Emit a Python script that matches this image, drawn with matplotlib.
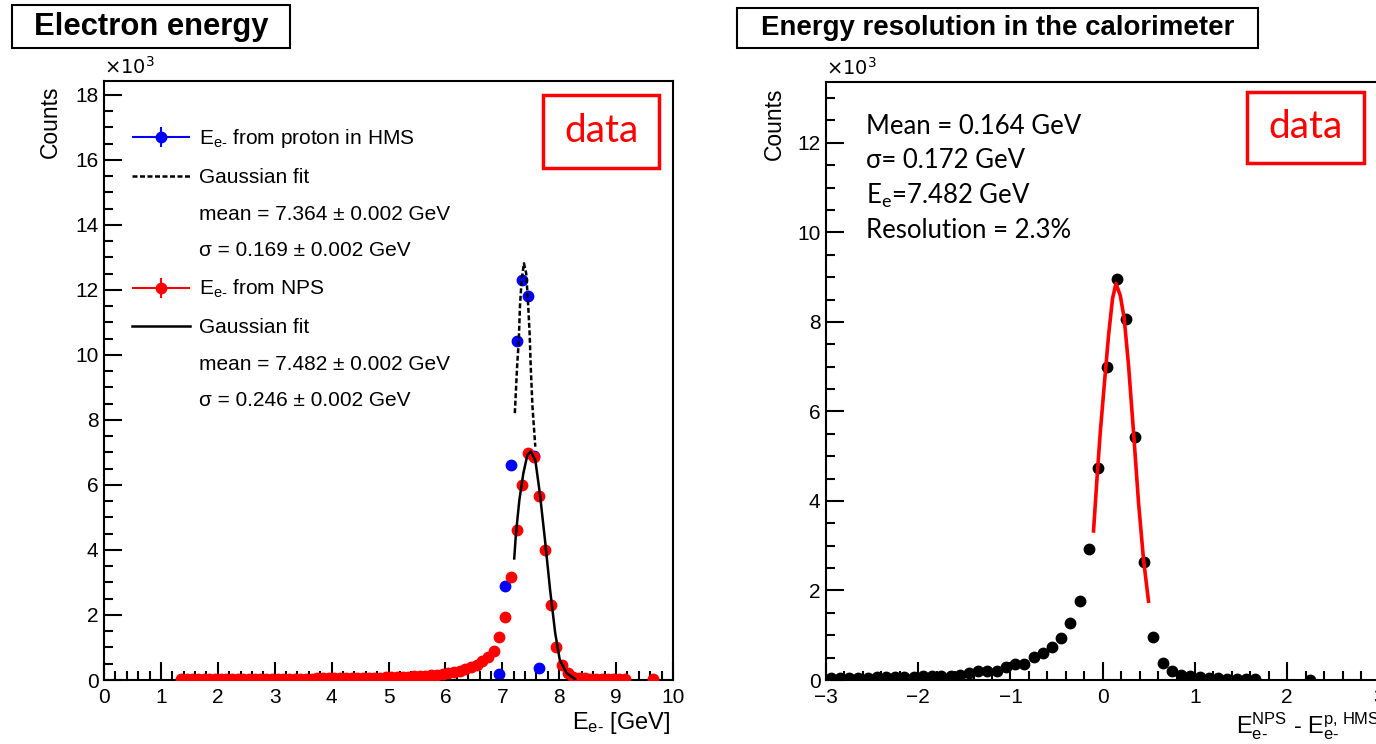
import numpy as np
import matplotlib.pyplot as plt
from matplotlib.patches import Rectangle
from matplotlib.ticker import MultipleLocator
from matplotlib.legend_handler import HandlerErrorbar
from matplotlib.container import ErrorbarContainer

plt.rcParams['font.family'] = ['Liberation Sans', 'DejaVu Sans']
plt.rcParams['mathtext.fontset'] = 'custom'
plt.rcParams['mathtext.rm'] = 'Liberation Sans'
plt.rcParams['mathtext.it'] = 'Liberation Sans:italic'
plt.rcParams['mathtext.bf'] = 'Liberation Sans:bold'

# ---- left panel: electron energy (counts in units of 10^3) ----
e_npsbins = np.round(np.arange(1.35, 9.2, 0.1), 2).tolist() + [9.65]
n_nps = [0.02, 0.02, 0.03, 0.03, 0.03, 0.03, 0.03,
         0.03, 0.03, 0.03, 0.03, 0.03, 0.03, 0.04, 0.04, 0.04, 0.04,
         0.04, 0.04, 0.04, 0.04, 0.04, 0.04, 0.04, 0.05, 0.05, 0.05,
         0.05, 0.05, 0.05, 0.06, 0.06, 0.06, 0.07, 0.07, 0.07, 0.08,
         0.08, 0.09, 0.09, 0.10, 0.11, 0.12, 0.13, 0.14, 0.16, 0.18,
         0.21, 0.24, 0.28, 0.33, 0.39, 0.47, 0.57, 0.70, 0.90, 1.33,
         1.95, 3.18, 4.62, 6.00, 6.97, 6.85, 5.66, 4.00, 2.31, 1.03,
         0.46, 0.20, 0.10, 0.06, 0.05, 0.04, 0.04, 0.03, 0.03, 0.03,
         0.03, 0.03,
         0.02]

e_hms = [6.95, 7.05, 7.15, 7.25, 7.35, 7.45, 7.55, 7.65]
n_hms = [0.18, 2.90, 6.62, 10.43, 12.31, 11.82, 6.90, 0.38]

# fit curves
fit_hms_x = [7.22, 7.26, 7.29, 7.31, 7.34, 7.38, 7.42, 7.45, 7.48, 7.50, 7.53, 7.58]
fit_hms_y = [8.21, 9.64, 10.46, 11.49, 12.31, 12.82, 12.51, 11.69, 10.67, 9.64, 8.41, 7.18]
fit_nps_x = [7.21, 7.24, 7.30, 7.37, 7.44, 7.50, 7.58, 7.66, 7.75, 7.84, 7.93, 8.01, 8.13, 8.28]
fit_nps_y = [3.74, 4.51, 5.54, 6.36, 6.92, 7.03, 6.77, 5.74, 4.31, 2.77, 1.44, 0.62, 0.21, 0.03]

# ---- right panel: E_NPS - E_HMS ----
d_bins = np.round(np.arange(-2.95, 1.7, 0.1), 2).tolist() + [2.25]
n_diff = [0.04, 0.04, 0.05, 0.05, 0.05, 0.07, 0.06, 0.07, 0.07, 0.06,
          0.08, 0.09, 0.09, 0.10, 0.12, 0.15, 0.19, 0.20, 0.21, 0.29,
          0.35, 0.36, 0.51, 0.60, 0.73, 0.93, 1.27, 1.77, 2.93, 4.74,
          7.00, 8.95, 8.06, 5.42, 2.64, 0.95, 0.37, 0.19, 0.12, 0.09,
          0.06, 0.05, 0.04, 0.03, 0.03, 0.02, 0.02,
          0.01]
fit_d_x = [-0.10, -0.063, -0.027, 0.016, 0.063, 0.106, 0.143, 0.19, 0.233, 0.28, 0.334, 0.388, 0.442, 0.496]
fit_d_y = [3.33, 4.48, 5.53, 6.58, 7.70, 8.52, 8.86, 8.59, 8.07, 7.02, 5.53, 3.96, 2.69, 1.76]

fig = plt.figure(figsize=(13.76, 7.44), dpi=100)
W, H = 1376.0, 744.0


def px(x0, y0, x1, y1):
    return [x0 / W, 1 - y1 / H, (x1 - x0) / W, (y1 - y0) / H]


def root_axes(ax):
    ax.tick_params(which='both', direction='in', top=False, right=False,
                   width=1.5, labelsize=15)
    ax.tick_params(which='major', length=13)
    ax.tick_params(which='minor', length=6.5)
    ax.tick_params(axis='x', pad=6)
    ax.tick_params(axis='y', pad=4)
    for s in ax.spines.values():
        s.set_linewidth(1.5)


ax1 = fig.add_axes(px(104, 81, 673, 680))
root_axes(ax1)
ax1.errorbar(e_hms, n_hms, xerr=0.05, fmt='o', color='blue', ms=7.5, lw=1.5, zorder=2)
ax1.errorbar(e_npsbins, n_nps, xerr=0.05, fmt='o', color='red', ms=7.5, lw=1.5, zorder=3)
ax1.plot(fit_hms_x, fit_hms_y, color='black', ls=(0, (2, 1)), lw=1.8, zorder=4)
ax1.plot(fit_nps_x, fit_nps_y, color='black', lw=1.8, zorder=4)
ax1.set_xlim(0, 10)
ax1.set_ylim(0, 18.43)
ax1.xaxis.set_major_locator(MultipleLocator(1))
ax1.xaxis.set_minor_locator(MultipleLocator(0.2))
ax1.yaxis.set_major_locator(MultipleLocator(2))
ax1.yaxis.set_minor_locator(MultipleLocator(0.5))
ax1.set_ylabel('Counts', fontsize=16.5, loc='top')
ax1.yaxis.set_label_coords(-0.074, 0.993)
ax1.set_xlabel(r'E$_{\text{e-}}$ [GeV]', fontsize=17, loc='right')
ax1.xaxis.set_label_coords(0.995, -0.05)
ax1.text(0.0, 1.006, '×10$^{3}$', transform=ax1.transAxes,
         fontsize=14, va='bottom', family='DejaVu Sans', math_fontfamily='dejavusans')

# legend
h_blue = ax1.errorbar([np.nan], [np.nan], xerr=[1], yerr=[1], fmt='o', color='blue', ms=7.5, lw=1.5)
h_red = ax1.errorbar([np.nan], [np.nan], xerr=[1], yerr=[1], fmt='o', color='red', ms=7.5, lw=1.5)
h_dash, = ax1.plot([], [], color='black', ls=(0, (2, 1)), lw=1.8)
h_solid, = ax1.plot([], [], color='black', lw=1.8)
h_none, = ax1.plot([], [], ls='none')
handles = [h_blue, h_dash, h_none, h_none, h_red, h_solid, h_none, h_none]
labels = [r'E$_{\text{e-}}$ from proton in HMS', 'Gaussian fit',
          'mean = 7.364 ± 0.002 GeV', 'σ = 0.169 ± 0.002 GeV',
          r'E$_{\text{e-}}$ from NPS', 'Gaussian fit',
          'mean = 7.482 ± 0.002 GeV', 'σ = 0.246 ± 0.002 GeV']
ax1.legend(handles, labels, loc='upper left', bbox_to_anchor=(0.049, 0.923),
           frameon=False, fontsize=15, borderpad=0, borderaxespad=0,
           handlelength=2.8, handletextpad=0.4, labelspacing=0.85,
           handler_map={ErrorbarContainer: HandlerErrorbar(xerr_size=1.4, yerr_size=0.48)})

# ---- right panel ----
ax2 = fig.add_axes(px(826, 82, 1379.5, 680))
root_axes(ax2)
ax2.errorbar(d_bins, n_diff, xerr=0.05, fmt='o', color='black', ms=7.5, lw=1.5, zorder=2)
ax2.plot(fit_d_x, fit_d_y, color='red', lw=2.6, zorder=3)
ax2.set_xlim(-3, 3)
ax2.set_ylim(0, 13.36)
ax2.xaxis.set_major_locator(MultipleLocator(1))
ax2.xaxis.set_minor_locator(MultipleLocator(0.2))
ax2.yaxis.set_major_locator(MultipleLocator(2))
ax2.yaxis.set_minor_locator(MultipleLocator(0.5))
ax2.set_ylabel('Counts', fontsize=16.5, loc='top')
ax2.yaxis.set_label_coords(-0.072, 0.99)
ax2.set_xlabel(r'E$^{\text{NPS}}_{\text{e-}}$ - E$^{\text{p, HMS}}_{\text{e-}}$',
               fontsize=17, loc='right')
ax2.xaxis.set_label_coords(1.0, -0.05)
ax2.text(0.0, 1.006, '×10$^{3}$', transform=ax2.transAxes,
         fontsize=14, va='bottom', family='DejaVu Sans', math_fontfamily='dejavusans')

stats = ['Mean = 0.164 GeV', 'σ= 0.172 GeV', r'E$_{\mathregular{e}}$=7.482 GeV', 'Resolution = 2.3%']
for i, s in enumerate(stats):
    fig.text(866 / W, 1 - (126 + 35 * i) / H, s, fontsize=18.5, family=['Lato', 'DejaVu Sans'],
             va='center', ha='left')

# titles
for (x0, y0, x1, y1), t, fs in [((12, 5, 290, 48), 'Electron energy', 22.3),
                                ((737, 8, 1258, 48), 'Energy resolution in the calorimeter', 19.9)]:
    fig.add_artist(Rectangle((x0 / W, 1 - y1 / H), (x1 - x0) / W, (y1 - y0) / H,
                             transform=fig.transFigure, fill=False, lw=1.5, ec='black'))
    fig.text((x0 + x1) / 2 / W, 1 - (y0 + y1) / 2 / H, t, fontsize=fs, fontweight='bold',
             ha='center', va='center')

# "data" boxes
for (x0, y0, x1, y1) in [(543, 95, 659, 168), (1247, 92, 1364, 163)]:
    fig.add_artist(Rectangle((x0 / W, 1 - y1 / H), (x1 - x0) / W, (y1 - y0) / H,
                             transform=fig.transFigure, fill=False, lw=2.5, ec='red'))
    fig.text((x0 + x1) / 2 / W, 1 - (y0 + y1) / 2 / H, 'data', fontsize=28, color='red',
             family=['Lato', 'DejaVu Sans'], ha='center', va='center')

fig.savefig('out.png', dpi=100)
